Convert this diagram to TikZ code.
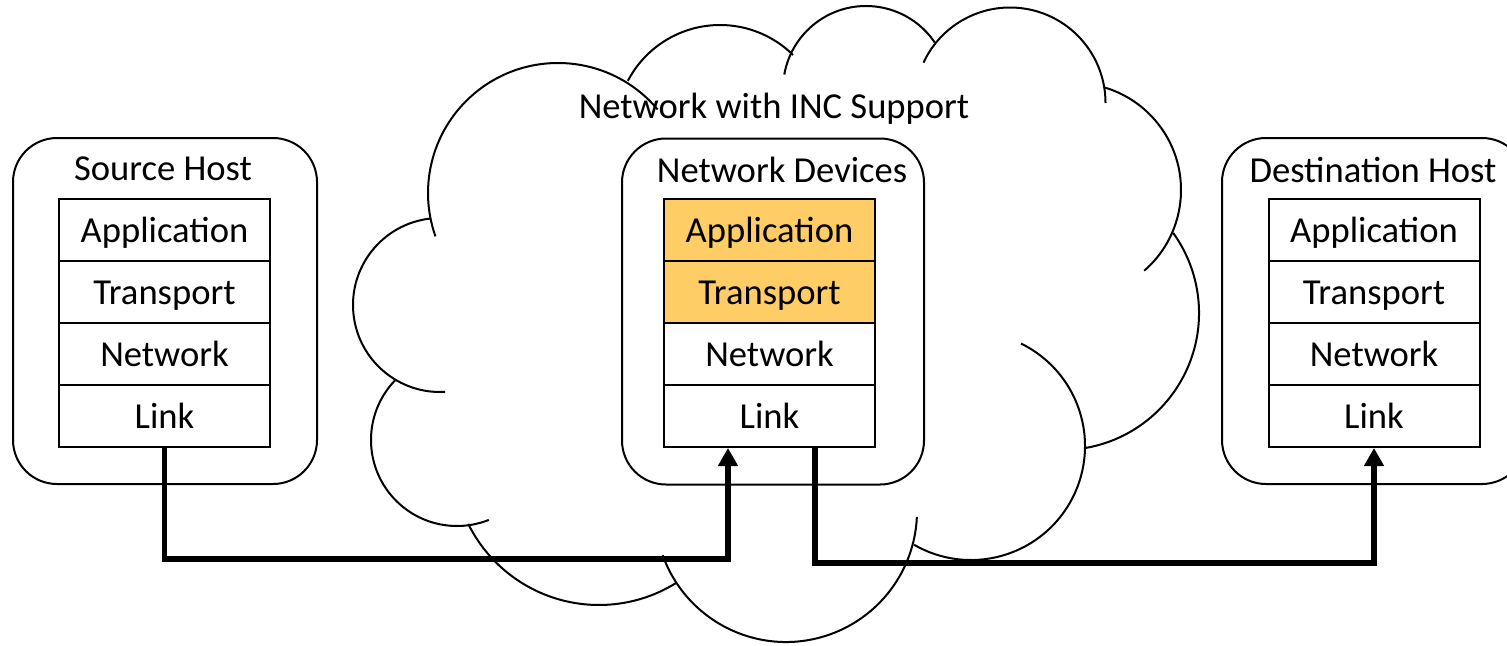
\documentclass[tikz,border=0pt]{standalone}
\usepackage{fontspec}
\setmainfont{Carlito}
\usetikzlibrary{arrows.meta}

\definecolor{incorange}{RGB}{255,205,102}

\tikzset{
    layer/.style = {draw, line width=1pt, minimum width=105.5pt, minimum height=31pt,
                    inner sep=0pt, text height=12pt, text depth=0pt},
    hostbox/.style = {draw, line width=1pt, rounded corners=22pt,
                      minimum width=152pt, minimum height=173pt},
    title/.style = {inner sep=0pt, text height=12pt, text depth=0pt},
    cloudline/.style = {line width=1pt},
    flow/.style = {line width=2.6pt, -{Triangle[length=9pt, width=9.5pt]}}
}

\begin{document}
\begin{tikzpicture}[x=0.5pt, y=0.5pt, font=\fontsize{18.3}{22}\selectfont]
        \clip (0, 0) rectangle (1507, 645);
        % cloud
        \draw[cloudline] (558, 452) ++(40:130) arc[start angle=40, end angle=199.5, radius=130];
        \draw[cloudline] (720, 516) ++(45.4:104) arc[start angle=45.4, end angle=152.4, radius=104];
        \draw[cloudline] (866, 556) ++(34:83) arc[start angle=34, end angle=170, radius=83];
        \draw[cloudline] (1010, 542) ++(0:95.5) arc[start angle=0, end angle=155, radius=95.5];
        \draw[cloudline] (1074, 455) ++(-49:107) arc[start angle=-49, end angle=73.6, radius=107];
        \draw[cloudline] (1062, 332) ++(-80.3:137) arc[start angle=-80.3, end angle=35.8, radius=137];
        \draw[cloudline] (971, 199) ++(-120:114) arc[start angle=-120, end angle=64, radius=114];
        \draw[cloudline] (786, 134) ++(-160.3:131) arc[start angle=-160.3, end angle=-2.6, radius=131];
        \draw[cloudline] (599, 186) ++(-153.6:146) arc[start angle=-153.6, end angle=-58.2, radius=146];
        \draw[cloudline] (457, 205) ++(136:86) arc[start angle=136, end angle=291.7, radius=86];
        \draw[cloudline] (440, 340) ++(96.6:87) arc[start angle=96.6, end angle=273.3, radius=87];
        \node[title] (inc) at (774, 538.5) {Network with INC Support};

        % source host
        \node[hostbox] (srcbox) at (165, 334) {};
        \node[title] (srctitle) at (163, 477) {Source Host};
        \node[layer] (sapp) at (164.5, 415) {Application};
        \node[layer] (strans) at (164.5, 353) {Transport};
        \node[layer] (snet) at (164.5, 291) {Network};
        \node[layer] (slink) at (164.5, 229) {Link};

        % network devices
        \node[hostbox, minimum width=151pt] (devbox) at (773, 333.5) {};
        \node[title] (devtitle) at (782, 475) {Network Devices};
        \node[layer, fill=incorange] (napp) at (769.5, 415) {Application};
        \node[layer, fill=incorange] (ntrans) at (769.5, 353) {Transport};
        \node[layer] (nnet) at (769.5, 291) {Network};
        \node[layer] (nlink) at (769.5, 229) {Link};

        % destination host
        \node[hostbox] (dstbox) at (1374, 334) {};
        \node[title] (dsttitle) at (1373, 475) {Destination Host};
        \node[layer] (dapp) at (1374, 415) {Application};
        \node[layer] (dtrans) at (1374, 353) {Transport};
        \node[layer] (dnet) at (1374, 291) {Network};
        \node[layer] (dlink) at (1374, 229) {Link};

        % paths
        \draw[flow] (slink.south) -- ++(0, -111) -| ([xshift=-20.75pt]nlink.south);
        \draw[flow] ([xshift=22.75pt]nlink.south) -- ++(0, -115) -| (dlink.south);
\end{tikzpicture}
\end{document}
